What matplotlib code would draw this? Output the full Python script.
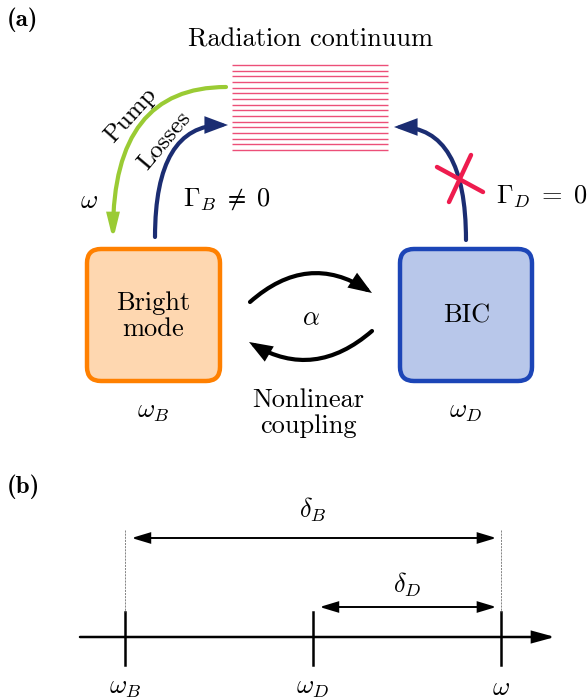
"""Bright mode / BIC coupling schematic with frequency axis"""
import matplotlib
matplotlib.use("Agg")
import matplotlib.pyplot as plt
from matplotlib.patches import FancyArrowPatch, FancyBboxPatch

plt.rcParams['font.family'] = 'cmr10'
plt.rcParams['mathtext.fontset'] = 'cm'
plt.rcParams['axes.unicode_minus'] = False

# frequencies on the detuning axis (arbitrary units, equally spaced)
freq_names = [r'$\omega_B$', r'$\omega_D$', r'$\omega$']
freq_values = [0.0, 1.0, 2.0]
# detunings: (label, from, to)
detunings = [(r'$\delta_B$', 0.0, 2.0), (r'$\delta_D$', 1.0, 2.0)]
# radiation continuum levels
n_levels = 16

GREEN = '#9acb34'
NAVY = '#1b2d72'
RED = '#ee1c4e'
PINK = '#ec4f78'
FS = 19

fig = plt.figure(figsize=(5.87, 7.0), dpi=100)

# ---------- panel (a) ----------
ax = fig.add_axes([0, 0, 1, 1])
ax.set_xlim(0, 587)
ax.set_ylim(700, 0)
ax.axis('off')

ax.text(7, 20, '(a)', family='cmb10', fontsize=18, va='center', ha='left')
ax.text(311, 40, 'Radiation continuum', fontsize=FS, ha='center', va='center')

# continuum lines
for i in range(n_levels):
    y = 65 + i * 5.67
    ax.plot([232, 388], [y, y], color=PINK, lw=1.0, solid_capstyle='butt')

# boxes
ax.add_patch(FancyBboxPatch((87, 249), 133, 132, boxstyle="round,pad=0,rounding_size=14",
                            fc='#fed7b0', ec='#ff8000', lw=3.2))
ax.add_patch(FancyBboxPatch((400, 249), 132, 132, boxstyle="round,pad=0,rounding_size=14",
                            fc='#b8c7ea', ec='#1c45b7', lw=3.2))
ax.text(153, 316, 'Bright\nmode', fontsize=FS, ha='center', va='center', linespacing=1.1)
ax.text(467, 316, 'BIC', fontsize=FS, ha='center', va='center')
ax.text(153, 412, r'$\omega_B$', fontsize=FS, ha='center', va='center')
ax.text(466, 412, r'$\omega_D$', fontsize=FS, ha='center', va='center')


def arrow(p0, p1, color, conn, lw=3.0, hl=0.8, hw=0.3, ms=14):
    a = FancyArrowPatch(p0, p1, connectionstyle=conn,
                        arrowstyle=f'-|>,head_length={hl},head_width={hw}',
                        mutation_scale=ms, color=color, lw=lw,
                        shrinkA=0, shrinkB=0, capstyle='round', joinstyle='miter')
    ax.add_patch(a)


# pump (green) and losses (navy)
arrow((226, 87), (113, 240), GREEN, "angle3,angleA=0,angleB=90", hl=0.9, hw=0.22)
arrow((155, 237), (228, 125), NAVY, "angle3,angleA=90,angleB=0")
arrow((466, 240), (394, 127), NAVY, "angle3,angleA=90,angleB=0")

ax.text(131, 115, 'Pump', fontsize=18, rotation=48, ha='center', va='center')
ax.text(165, 141, 'Losses', fontsize=18, rotation=50, ha='center', va='center')
ax.text(89, 201, r'$\omega$', fontsize=FS, ha='center', va='center')
ax.text(227, 199, r'$\Gamma_B \;\neq\; 0$', fontsize=FS, ha='center', va='center')
ax.text(542, 197, r'$\Gamma_D \;=\; 0$', fontsize=FS, ha='center', va='center')

# red cross on BIC radiation channel
ax.plot([437, 483], [167, 192], color=RED, lw=3.2, solid_capstyle='round')
ax.plot([449, 471], [202, 155], color=RED, lw=3.2, solid_capstyle='round')

# nonlinear coupling arrows
arrow((250, 302), (372, 293), 'black', "arc3,rad=-0.38", hl=0.8, hw=0.3)
arrow((372, 331), (249, 342), 'black', "arc3,rad=-0.36", hl=0.8, hw=0.3)
ax.text(311, 318, r'$\alpha$', fontsize=FS, ha='center', va='center')
ax.text(308, 413, 'Nonlinear\ncoupling', fontsize=FS, ha='center', va='center', linespacing=1.15)

# ---------- panel (b) ----------
ax.text(7, 487, '(b)', family='cmb10', fontsize=18, va='center', ha='left')

axb = fig.add_axes([0, 0, 1, 231 / 700])
axb.set_xlim(-125 / 188, 462 / 188)
axb.set_ylim(700, 469)
axb.axis('off')

x_lo = freq_values[0] - 45 / 188
x_hi = freq_values[-1] + 54 / 188
axb.add_patch(FancyArrowPatch((x_lo, 637), (x_hi, 637), arrowstyle='-|>,head_length=1.1,head_width=0.3',
                              mutation_scale=12, color='black', lw=1.8, shrinkA=0, shrinkB=0,
                              joinstyle='miter'))
for name, f in zip(freq_names, freq_values):
    axb.plot([f, f], [612, 665], color='black', lw=1.8)
    axb.text(f, 688, name, fontsize=FS, ha='center', va='center')

# guide lines above first and last ticks
for f in (freq_values[0], freq_values[-1]):
    axb.plot([f, f], [530, 612], color='#555555', lw=0.5, ls=(0, (3, 1.5)))

levels_y = [538, 607]
label_y = [510, 585]
for (lab, f0, f1), y, ly in zip(detunings, levels_y, label_y):
    axb.add_patch(FancyArrowPatch((f0 + 0.035, y), (f1 - 0.025, y),
                                  arrowstyle='<|-|>,head_length=1.0,head_width=0.3',
                                  mutation_scale=11, color='black', lw=1.4, shrinkA=0, shrinkB=0,
                                  joinstyle='miter'))
    axb.text((f0 + f1) / 2, ly, lab, fontsize=FS, ha='center', va='center')

fig.savefig('out.png', dpi=100)
